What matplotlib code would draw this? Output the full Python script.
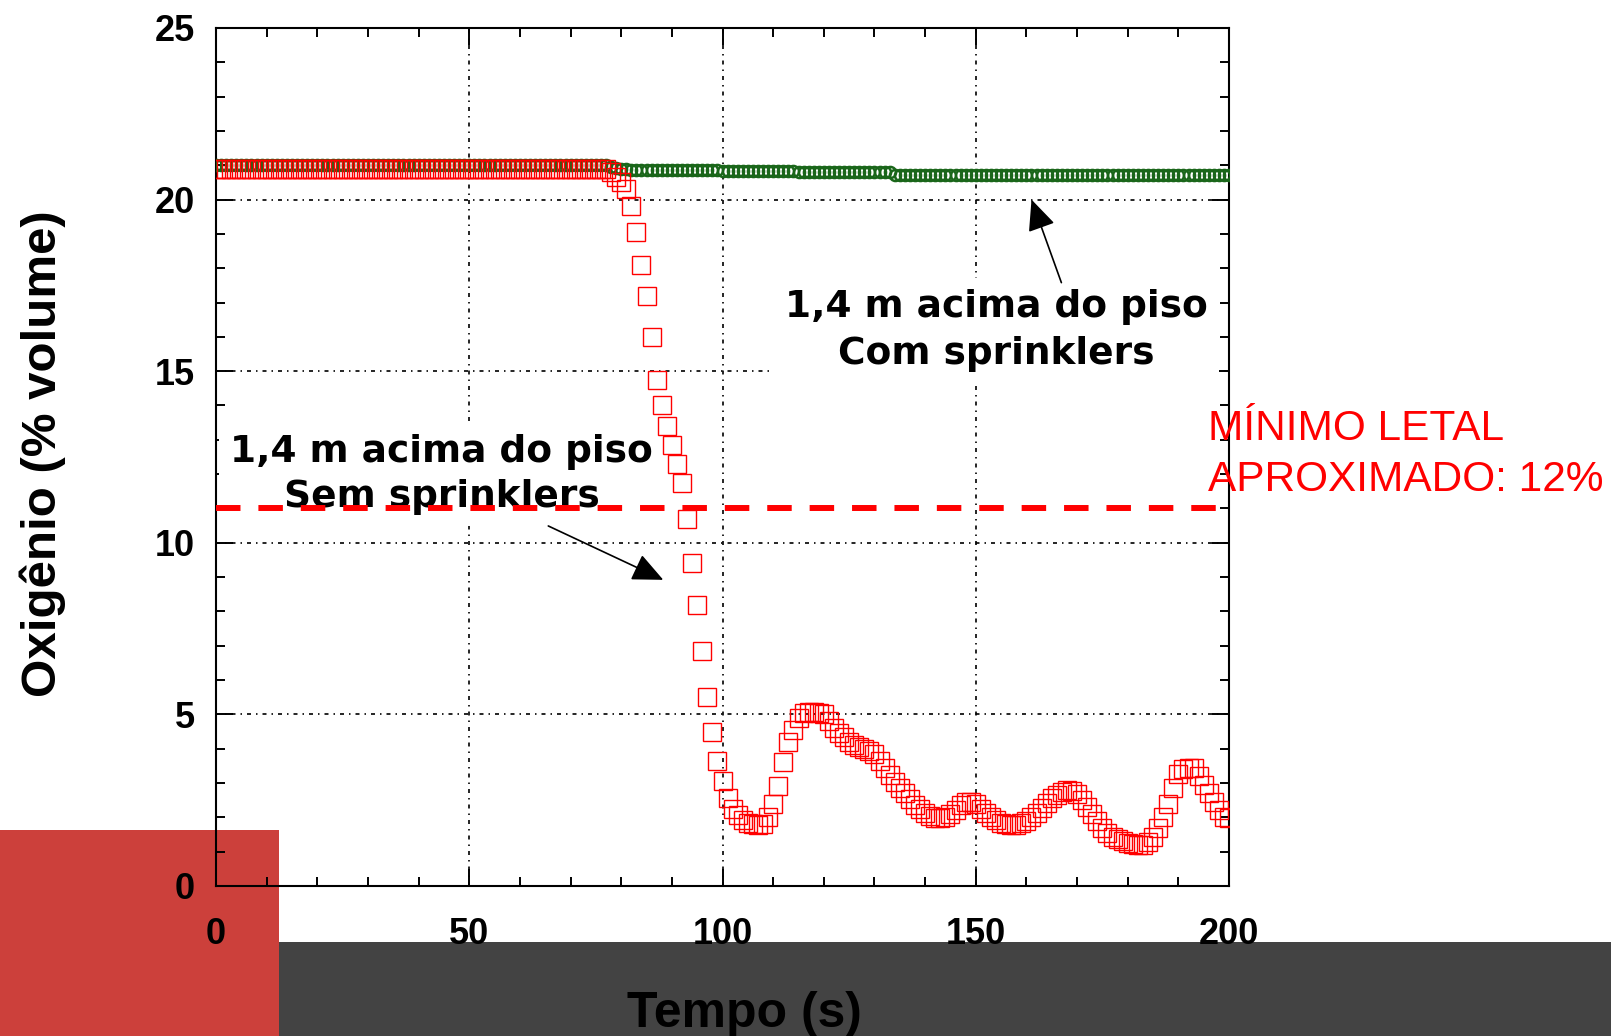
import numpy as np
import matplotlib
matplotlib.use("Agg")
import matplotlib.pyplot as plt
from matplotlib.patches import Rectangle
from matplotlib.ticker import MultipleLocator

# time (s), one sample per second
tempo = np.arange(0, 201)

# 1,4 m acima do piso - com sprinklers (green circles)
o2_com = [
    21.0, 21.0, 21.0, 21.0, 21.0, 21.0, 21.0, 21.0, 21.0, 21.0,
    21.0, 21.0, 21.0, 21.0, 21.0, 21.0, 21.0, 21.0, 21.0, 21.0,
    21.0, 21.0, 21.0, 21.0, 21.0, 21.0, 21.0, 21.0, 21.0, 21.0,
    21.0, 21.0, 21.0, 21.0, 21.0, 21.0, 21.0, 21.0, 21.0, 21.0,
    21.0, 21.0, 21.0, 21.0, 21.0, 21.0, 21.0, 21.0, 21.0, 21.0,
    21.0, 21.0, 21.0, 21.0, 21.0, 21.0, 21.0, 21.0, 21.0, 21.0,
    21.0, 21.0, 21.0, 21.0, 21.0, 21.0, 21.0, 21.0, 21.0, 21.0,
    21.0, 21.0, 21.0, 21.0, 21.0, 21.0, 21.0, 21.0, 20.96, 20.93,
    20.9, 20.88, 20.87, 20.86, 20.86, 20.85, 20.85, 20.85, 20.85, 20.85,
    20.85, 20.85, 20.85, 20.85, 20.85, 20.85, 20.85, 20.85, 20.85, 20.85,
    20.83, 20.83, 20.83, 20.83, 20.83, 20.83, 20.83, 20.83, 20.83, 20.83,
    20.83, 20.83, 20.83, 20.83, 20.83, 20.8, 20.8, 20.8, 20.8, 20.8,
    20.8, 20.8, 20.8, 20.8, 20.8, 20.8, 20.8, 20.8, 20.8, 20.8,
    20.8, 20.8, 20.8, 20.8, 20.72, 20.72, 20.72, 20.72, 20.72, 20.72,
    20.72, 20.72, 20.72, 20.72, 20.72, 20.72, 20.72, 20.72, 20.72, 20.72,
    20.72, 20.72, 20.72, 20.72, 20.72, 20.72, 20.72, 20.72, 20.72, 20.72,
    20.72, 20.72, 20.72, 20.72, 20.72, 20.72, 20.72, 20.72, 20.72, 20.72,
    20.72, 20.72, 20.72, 20.72, 20.72, 20.72, 20.72, 20.72, 20.72, 20.72,
    20.72, 20.72, 20.72, 20.72, 20.72, 20.72, 20.72, 20.72, 20.72, 20.72,
    20.72, 20.72, 20.72, 20.72, 20.72, 20.72, 20.72, 20.72, 20.72, 20.72,
    20.72,
]

# 1,4 m acima do piso - sem sprinklers (red squares)
o2_sem = [
    20.9, 20.9, 20.9, 20.9, 20.9, 20.9, 20.9, 20.9, 20.9, 20.9,
    20.9, 20.9, 20.9, 20.9, 20.9, 20.9, 20.9, 20.9, 20.9, 20.9,
    20.9, 20.9, 20.9, 20.9, 20.9, 20.9, 20.9, 20.9, 20.9, 20.9,
    20.9, 20.9, 20.9, 20.9, 20.9, 20.9, 20.9, 20.9, 20.9, 20.9,
    20.9, 20.9, 20.9, 20.9, 20.9, 20.9, 20.9, 20.9, 20.9, 20.9,
    20.9, 20.9, 20.9, 20.9, 20.9, 20.9, 20.9, 20.9, 20.9, 20.9,
    20.9, 20.9, 20.9, 20.9, 20.9, 20.9, 20.9, 20.9, 20.9, 20.9,
    20.9, 20.9, 20.9, 20.9, 20.9, 20.9, 20.9, 20.88, 20.8, 20.65,
    20.5, 20.3, 19.8, 19.05, 18.1, 17.2, 16.0, 14.75, 14.0, 13.4,
    12.85, 12.3, 11.75, 10.7, 9.4, 8.2, 6.85, 5.5, 4.5, 3.65,
    3.05, 2.55, 2.25, 2.07, 1.93, 1.84, 1.8, 1.78, 1.82, 2.0,
    2.4, 2.9, 3.6, 4.2, 4.55, 4.9, 5.03, 5.06, 5.06, 5.04,
    5.0, 4.8, 4.6, 4.45, 4.33, 4.2, 4.1, 4.04, 4.0, 3.93,
    3.85, 3.65, 3.45, 3.22, 3.02, 2.85, 2.7, 2.52, 2.37, 2.24,
    2.12, 2.04, 1.98, 1.97, 2.01, 2.1, 2.22, 2.36, 2.44, 2.46,
    2.38, 2.25, 2.13, 2.02, 1.92, 1.84, 1.8, 1.78, 1.79, 1.83,
    1.9, 2.0, 2.14, 2.28, 2.42, 2.55, 2.66, 2.74, 2.79, 2.78,
    2.68, 2.5, 2.3, 2.1, 1.88, 1.68, 1.53, 1.44, 1.37, 1.31,
    1.26, 1.22, 1.2, 1.2, 1.28, 1.42, 1.7, 2.0, 2.4, 2.85,
    3.25, 3.4, 3.45, 3.44, 3.2, 2.95, 2.7, 2.45, 2.2, 2.0,
    1.97,
]

# approximate lethal level line
letal_x = [0, 200]
letal_y = [11, 11]

fig = plt.figure(figsize=(16.11, 10.36), dpi=100)
fig.patch.set_facecolor("white")

# decoration blocks behind the chart
fig.add_artist(Rectangle((0, 0), 279 / 1611, 206 / 1036, transform=fig.transFigure,
                         facecolor="#cc403b", edgecolor="none", zorder=-1))
fig.add_artist(Rectangle((279 / 1611, 0), 1 - 279 / 1611, 94 / 1036, transform=fig.transFigure,
                         facecolor="#434343", edgecolor="none", zorder=-1))

ax = fig.add_axes([0.1341, 0.1448, 0.6288, 0.8282])
ax.set_facecolor("none")

ax.plot(tempo, o2_com, linestyle="none", marker="o", ms=8, mfc="none",
        mec="#1a661a", mew=1.8, zorder=4)
ax.plot(tempo, o2_sem, linestyle="none", marker="s", ms=12.5, mfc="none",
        mec="#ff0000", mew=1.0, zorder=4)
ax.plot(letal_x, letal_y, color="#ff0000", lw=4.3, linestyle=(0, (4.1, 3.0)), zorder=5)

ax.set_xlim(0, 200)
ax.set_ylim(0, 25)
ax.xaxis.set_major_locator(MultipleLocator(50))
ax.xaxis.set_minor_locator(MultipleLocator(10))
ax.yaxis.set_major_locator(MultipleLocator(5))
ax.yaxis.set_minor_locator(MultipleLocator(1))
ax.tick_params(which="both", direction="in", top=True, right=True, width=1.4, colors="black")
ax.tick_params(which="major", length=12, labelsize=26)
ax.tick_params(which="minor", length=6.5)
ax.tick_params(axis="x", which="major", pad=22)
ax.tick_params(axis="y", which="major", pad=15)
for lab in ax.get_xticklabels() + ax.get_yticklabels():
    lab.set_fontweight("bold")
    lab.set_family("Liberation Sans")
for sp in ax.spines.values():
    sp.set_linewidth(1.5)
ax.grid(True, which="major", color="black", lw=1.2, linestyle=(0, (2.4, 3, 0.9, 3)))

box = dict(boxstyle="square,pad=0.3", fc="white", ec="none")
ax.text(154, 16.18, "1,4 m acima do piso\nCom sprinklers", ha="center", va="center",
        fontsize=27, fontweight="bold", linespacing=1.4, bbox=box, zorder=3)
ax.text(44.6, 11.99, "1,4 m acima do piso\nSem sprinklers", ha="center", va="center",
        fontsize=27, fontweight="bold", linespacing=1.32, bbox=box, zorder=3)

arrow = dict(arrowstyle="-|>,head_length=0.6,head_width=0.27", color="black", lw=1.2,
             mutation_scale=32, shrinkA=0, shrinkB=0)
ax.annotate("", xy=(161.0, 20.0), xytext=(166.9, 17.58), arrowprops=arrow, zorder=6)
ax.annotate("", xy=(88.3, 8.92), xytext=(65.6, 10.49), arrowprops=arrow, zorder=6)

fig.text(0.7498, 0.526, "MÍNIMO LETAL\nAPROXIMADO: 12%", color="#ff0000", fontsize=30.5,
         family="Liberation Sans", linespacing=1.37, ha="left", va="baseline", zorder=10)

fig.text(0.0267, 0.5618, "Oxigênio (% volume)", rotation=90, ha="center", va="center",
         fontsize=35.5, fontweight="bold", family="Liberation Sans")
fig.text(0.4621, 0.021, "Tempo (s)", ha="center", va="center",
         fontsize=36, fontweight="bold", family="Liberation Sans", zorder=10)

fig.savefig("out.png", dpi=100)
